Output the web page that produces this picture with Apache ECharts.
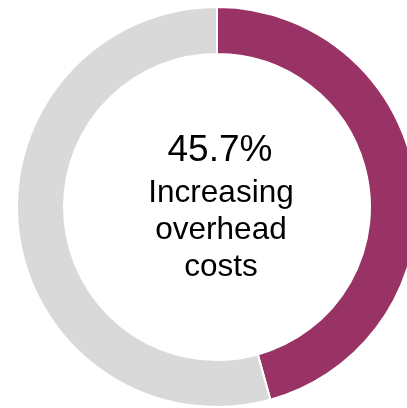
<!DOCTYPE html>
<html>
<head>
<meta charset="utf-8">
<style>html,body{margin:0;padding:0;background:#fff;}#c{width:407px;height:408px;}</style>
<script src="https://cdn.jsdelivr.net/npm/echarts@6/dist/echarts.min.js"></script>
</head>
<body>
<div id="c"></div>
<script>
var categories = ['Increasing overhead costs', 'Other'];
var values = [45.7, 54.3];
var colors = ['#993366', '#D9D9D9'];
var centerLines = ['Increasing', 'overhead', 'costs'];

var chart = echarts.init(document.getElementById('c'), null, {renderer: 'canvas'});
var font = '"Liberation Sans", Arial, sans-serif';
var graphics = [{
  type: 'text', style: {x: 220, y: 169, text: values[0].toFixed(1) + '%', fontSize: 37, fontFamily: font, fill: '#000', textAlign: 'center', textVerticalAlign: 'bottom'}
}];
var baselines = [209, 246, 283];
centerLines.forEach(function (t, i) {
  graphics.push({type: 'text', style: {x: 221, y: baselines[i], text: t, fontSize: 31.5, fontFamily: font, fill: '#000', textAlign: 'center', textVerticalAlign: 'bottom'}});
});
chart.setOption({
  animation: false,
  series: [{
    type: 'pie',
    center: [217, 207],
    radius: [153, 200],
    startAngle: 90,
    clockwise: true,
    label: {show: false},
    labelLine: {show: false},
    itemStyle: {borderColor: '#fff', borderWidth: 2},
    emphasis: {disabled: true},
    data: categories.map(function (c, i) { return {name: c, value: values[i], itemStyle: {color: colors[i]}}; })
  }],
  graphic: graphics
});
</script>
</body>
</html>
